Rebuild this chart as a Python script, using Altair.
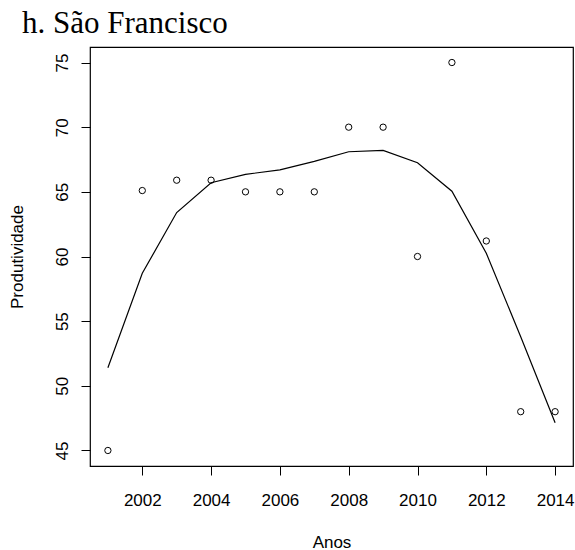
import altair as alt
import pandas as pd

years = list(range(2001, 2015))
observed = [45, 65.1, 65.9, 65.9, 65, 65, 65, 70, 70, 60, 75, 61.2, 48, 48]
fitted = [51.4, 58.7, 63.4, 65.7, 66.35, 66.7, 67.35, 68.1, 68.2, 67.25, 65.05, 60.25, 53.8, 47.15]
x_ticks = [2002, 2004, 2006, 2008, 2010, 2012, 2014]
y_ticks = [45, 50, 55, 60, 65, 70, 75]

df = pd.DataFrame({"Anos": years, "obs": observed, "fit": fitted})

xs = alt.Scale(domain=[2000.48, 2014.52], nice=False, zero=False)
ys = alt.Scale(domain=[43.8, 76.2], nice=False, zero=False)

xaxis = alt.Axis(values=x_ticks, format="d", grid=False, domain=False,
                 tickColor="black", tickSize=9, tickWidth=1,
                 labelFont="Liberation Sans", labelFontSize=17, labelColor="black",
                 labelPadding=17, labelFlush=False,
                 titleFont="Liberation Sans", titleFontSize=17, titleFontWeight="normal",
                 titleColor="black", titlePadding=26)
yaxis = alt.Axis(values=y_ticks, grid=False, domain=False,
                 tickColor="black", tickSize=9, tickWidth=1,
                 labelFont="Liberation Sans", labelFontSize=17, labelColor="black",
                 labelAngle=270, labelAlign="center", labelBaseline="bottom",
                 labelPadding=10, labelFlush=False,
                 titleFont="Liberation Sans", titleFontSize=17, titleFontWeight="normal",
                 titleColor="black", titlePadding=27)

line = alt.Chart(df).mark_line(color="black", strokeWidth=1.2).encode(
    x=alt.X("Anos:Q", scale=xs, axis=xaxis, title="Anos"),
    y=alt.Y("fit:Q", scale=ys, axis=yaxis, title="Produtividade"),
)
pts = alt.Chart(df).mark_point(shape="circle", filled=False, color="black",
                               size=40, strokeWidth=1, opacity=1).encode(
    x=alt.X("Anos:Q", scale=xs),
    y=alt.Y("obs:Q", scale=ys),
)

chart = (line + pts).properties(
    width=483, height=419,
    title=alt.Title("h. São Francisco", anchor="start", frame="group", dx=-68,
                    font="Liberation Serif", fontSize=31, fontWeight="normal",
                    color="black", offset=7),
    padding={"left": 90, "top": 47, "right": 2, "bottom": 84},
    autosize=alt.AutoSizeParams(type="none"),
    background="white",
).configure_view(stroke="black", strokeWidth=1.2)

chart.save("out.html", embed_options={"renderer": "svg", "actions": False})
